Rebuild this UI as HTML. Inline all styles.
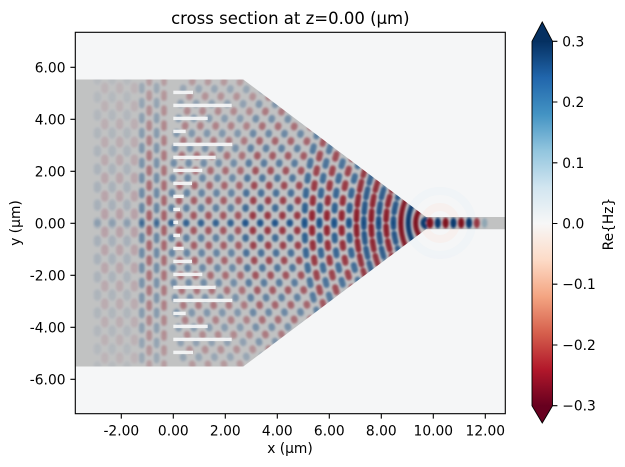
<!DOCTYPE html>
<html><head><meta charset="utf-8">
<style>
html,body{margin:0;padding:0;background:#fff;width:625px;height:467px;overflow:hidden}
svg{display:block}
text{font-family:"DejaVu Sans","Liberation Sans",sans-serif;fill:#000}
</style></head>
<body>
<svg width="625" height="467" viewBox="0 0 625 467" xmlns="http://www.w3.org/2000/svg">
<defs>
<clipPath id="plot"><rect x="75.3" y="32.3" width="430" height="381.4"/></clipPath>
<clipPath id="st"><path d="M75.3 79.5H243.3L426 217H505.3V229.2H426L243.3 366.5H75.3Z"/></clipPath>
<linearGradient id="vf" gradientUnits="userSpaceOnUse" x1="0" y1="79" x2="0" y2="367">
<stop offset="0" stop-color="#5a5a5a"/><stop offset=".25" stop-color="#b5b5b5"/><stop offset=".5" stop-color="#fff"/><stop offset=".75" stop-color="#b5b5b5"/><stop offset="1" stop-color="#5a5a5a"/>
</linearGradient>
<mask id="vm" maskUnits="userSpaceOnUse" x="0" y="0" width="625" height="467"><rect width="625" height="467" fill="url(#vf)"/></mask>
<filter id="bl" filterUnits="userSpaceOnUse" x="0" y="0" width="625" height="467"><feGaussianBlur stdDeviation="1"/></filter>
<linearGradient id="cb" x1="0" y1="1" x2="0" y2="0">
<stop offset="0" stop-color="#67001f"/><stop offset=".1" stop-color="#b2182b"/><stop offset=".2" stop-color="#d6604d"/><stop offset=".3" stop-color="#f4a582"/><stop offset=".4" stop-color="#fddbc7"/><stop offset=".5" stop-color="#f7f7f7"/><stop offset=".6" stop-color="#d1e5f0"/><stop offset=".7" stop-color="#92c5de"/><stop offset=".8" stop-color="#4393c3"/><stop offset=".9" stop-color="#2166ac"/><stop offset="1" stop-color="#053061"/>
</linearGradient>
</defs>

<!-- plot background -->
<rect x="75.3" y="32.3" width="430" height="381.4" fill="#f5f6f7"/>

<g clip-path="url(#plot)">
  <!-- very faint field outside structure near tip -->
  <g fill="none" opacity=".35">
    <circle cx="440" cy="223" r="16" stroke="#fbe6dc" stroke-width="8"/>
    <circle cx="440" cy="223" r="32" stroke="#e8eff5" stroke-width="8"/>
  </g>

  <!-- field inside structure -->
  <g clip-path="url(#st)" mask="url(#vm)">
   <g filter="url(#bl)" fill="none">
    <g id="up">
      <!-- near tip: continuous dark stripes -->
      <g stroke-width="5">
        <path stroke="#0b4a8c" d="M423 223A4 4 0 0 1 427 219"/>
        <path stroke="#a01228" d="M415.6 223A22.5 22.5 0 0 1 438.1 200.5"/>
        <path stroke="#0b4a8c" d="M408.2 223A41 41 0 0 1 449.2 182"/>
        <path stroke="#a01228" d="M400.8 223A59.5 59.5 0 0 1 460.3 163.5"/>
      </g>
      <!-- mostly continuous beaded -->
      <g stroke-width="5.5" stroke-linecap="round" stroke-dasharray="9 6" opacity=".95">
        <g stroke="#1d5fa5" stroke-dashoffset="4.5">
          <path d="M393.4 223A78 78 0 0 1 471.4 145"/>
          <path d="M378.6 223A115 115 0 0 1 493.6 108"/>
          <path d="M363.8 223A152 152 0 0 1 515.8 71"/>
        </g>
        <g stroke="#ab1429" stroke-dashoffset="12">
          <path d="M386 223A96.5 96.5 0 0 1 482.5 126.5"/>
          <path d="M371.2 223A133.5 133.5 0 0 1 504.7 89.5"/>
          <path d="M356.4 223A170.5 170.5 0 0 1 476.89 60"/>
        </g>
      </g>
      <!-- beaded -->
      <g stroke-width="6" stroke-linecap="round" stroke-dasharray="5 10" opacity=".9">
        <g stroke="#2166ac" stroke-dashoffset="2.5">
          <path d="M349 223A189 189 0 0 1 442.33 60"/>
          <path d="M334.2 223A226 226 0 0 1 403.65 60"/>
          <path d="M319.4 223A276 276 0 0 1 372.67 60"/>
          <path d="M304.6 223A326 326 0 0 1 348.28 60"/>
        </g>
        <g stroke="#b2182b" stroke-dashoffset="10">
          <path d="M341.6 223A207.5 207.5 0 0 1 420.7 60"/>
          <path d="M326.8 223A251 251 0 0 1 386.93 60"/>
          <path d="M312 223A301 301 0 0 1 359.95 60"/>
        </g>
      </g>
      <!-- dots -->
      <g stroke-width="6.5" stroke-linecap="round" stroke-dasharray="1.5 13.5" opacity=".8">
        <g stroke="#b2182b" stroke-dashoffset="8.25">
          <path d="M297.2 223A351 351 0 0 1 337.34 60"/>
          <path d="M282.4 223A401 401 0 0 1 317.02 60"/>
          <path d="M267.6 223A451 451 0 0 1 298.09 60"/>
          <path d="M252.8 223A501 501 0 0 1 280.06 60"/>
        </g>
        <g stroke="#2166ac" stroke-dashoffset=".75">
          <path d="M289.8 223A376 376 0 0 1 326.97 60"/>
          <path d="M275 223A426 426 0 0 1 307.42 60"/>
          <path d="M260.2 223A476 476 0 0 1 288.98 60"/>
          <path d="M245.4 223A526 526 0 0 1 271.29 60"/>
        </g>
      </g>
      <g stroke-width="6.5" stroke-linecap="round" stroke-dasharray="1.5 13.5" opacity=".6">
        <g stroke="#b2182b" stroke-dashoffset="8.25">
          <path d="M238 223A551 551 0 0 1 262.66 60"/>
          <path d="M223.2 223A601 601 0 0 1 245.73 60"/>
          <path d="M208.4 223A651 651 0 0 1 229.14 60"/>
          <path d="M193.6 223A701 701 0 0 1 212.81 60"/>
          <path d="M178.8 223A751 751 0 0 1 196.7 60"/>
        </g>
        <g stroke="#2166ac" stroke-dashoffset=".75">
          <path d="M230.6 223A576 576 0 0 1 254.14 60"/>
          <path d="M215.8 223A626 626 0 0 1 237.39 60"/>
          <path d="M201 223A676 676 0 0 1 220.95 60"/>
          <path d="M186.2 223A726 726 0 0 1 204.74 60"/>
          <path d="M171.4 223A776 776 0 0 1 188.71 60"/>
        </g>
      </g>
      <!-- straight beaded stripes left of grating -->
      <g stroke-width="5.5" stroke-linecap="round" stroke-dasharray="5 10" opacity=".55">
        <g stroke="#b2182b" stroke-dashoffset="10">
          <path d="M164 223V60"/><path d="M149.2 223V60"/>
        </g>
        <g stroke="#2166ac" stroke-dashoffset="2.5">
          <path d="M156.6 223V60"/><path d="M141.8 223V60"/>
        </g>
      </g>
      <!-- faint blobs -->
      <g stroke-width="7" stroke-linecap="round" stroke-dasharray="4 14" opacity=".17">
        <g stroke="#b2182b" stroke-dashoffset="11">
          <path d="M134.4 223V60"/><path d="M119.6 223V60"/><path d="M104.8 223V60"/>
        </g>
        <g stroke="#2166ac" stroke-dashoffset="2">
          <path d="M127 223V60"/><path d="M112.2 223V60"/><path d="M97.4 223V60"/>
        </g>
      </g>
    </g>
    <use href="#up" transform="matrix(1 0 0 -1 0 446)"/>
    <!-- waveguide mode dots -->
    <g stroke="none">
      <ellipse cx="430" cy="223" rx="3.4" ry="5.6" fill="#a01228"/>
      <ellipse cx="437.8" cy="223" rx="3.1" ry="5.5" fill="#0b4a8c"/>
      <ellipse cx="445.6" cy="223" rx="3.1" ry="5.5" fill="#a01228"/>
      <ellipse cx="453.4" cy="223" rx="3.1" ry="5.5" fill="#0b4a8c"/>
      <ellipse cx="461.2" cy="223" rx="3.1" ry="5.5" fill="#a01228"/>
      <ellipse cx="469" cy="223" rx="3.1" ry="5.5" fill="#0b4a8c"/>
      <ellipse cx="476.8" cy="223" rx="3" ry="5.2" fill="#b2182b" opacity=".8"/>
      <ellipse cx="484.6" cy="223" rx="2.8" ry="5" fill="#4393c3" opacity=".35"/>
    </g>
   </g>
  </g>

  <!-- structure overlay -->
  <path d="M75.3 79.5H243.3L426 217H505.3V229.2H426L243.3 366.5H75.3Z" fill="#000" fill-opacity=".21"/>

  <!-- grating bars -->
  <g fill="#f6f7f8" opacity=".92">
    <rect x="173.3" y="90.7" width="19.7" height="3.4"/>
    <rect x="173.3" y="103.7" width="58.4" height="3.4"/>
    <rect x="173.3" y="116.7" width="34.4" height="3.4"/>
    <rect x="173.3" y="129.7" width="12.4" height="3.4"/>
    <rect x="173.3" y="142.7" width="59" height="3.4"/>
    <rect x="173.3" y="155.7" width="42.4" height="3.4"/>
    <rect x="173.3" y="168.7" width="29" height="3.4"/>
    <rect x="173.3" y="181.7" width="18.7" height="3.4"/>
    <rect x="173.3" y="194.7" width="10.4" height="3.4"/>
    <rect x="173.3" y="207.7" width="6.7" height="3.4"/>
    <rect x="173.3" y="220.7" width="4.7" height="3.4"/>
    <rect x="173.3" y="233.7" width="6.7" height="3.4"/>
    <rect x="173.3" y="246.7" width="10.4" height="3.4"/>
    <rect x="173.3" y="259.7" width="18.7" height="3.4"/>
    <rect x="173.3" y="272.7" width="29" height="3.4"/>
    <rect x="173.3" y="285.7" width="42.4" height="3.4"/>
    <rect x="173.3" y="298.7" width="59" height="3.4"/>
    <rect x="173.3" y="311.7" width="12.4" height="3.4"/>
    <rect x="173.3" y="324.7" width="34.4" height="3.4"/>
    <rect x="173.3" y="337.7" width="58.4" height="3.4"/>
    <rect x="173.3" y="350.7" width="19.7" height="3.4"/>
  </g>
</g>

<!-- spines -->
<rect x="75.3" y="32.3" width="430" height="381.4" fill="none" stroke="#000" stroke-width="1.1"/>

<!-- ticks -->
<g stroke="#000" stroke-width="1.1">
  <path d="M70.4 67.3H75.3M70.4 119.3H75.3M70.4 171.3H75.3M70.4 223.3H75.3M70.4 275.3H75.3M70.4 327.3H75.3M70.4 379.3H75.3"/>
  <path d="M121.3 413.7V418.6M173.3 413.7V418.6M225.3 413.7V418.6M277.3 413.7V418.6M329.3 413.7V418.6M381.3 413.7V418.6M433.3 413.7V418.6M485.3 413.7V418.6"/>
</g>
<g font-size="13.8" text-anchor="end">
  <text x="65.5" y="72.3">6.00</text>
  <text x="65.5" y="124.3">4.00</text>
  <text x="65.5" y="176.3">2.00</text>
  <text x="65.5" y="228.3">0.00</text>
  <text x="65.5" y="280.3">-2.00</text>
  <text x="65.5" y="332.3">-4.00</text>
  <text x="65.5" y="384.3">-6.00</text>
</g>
<g font-size="13.8" text-anchor="middle">
  <text x="121.3" y="435.3">-2.00</text>
  <text x="173.3" y="435.3">0.00</text>
  <text x="225.3" y="435.3">2.00</text>
  <text x="277.3" y="435.3">4.00</text>
  <text x="329.3" y="435.3">6.00</text>
  <text x="381.3" y="435.3">8.00</text>
  <text x="433.3" y="435.3">10.00</text>
  <text x="485.3" y="435.3">12.00</text>
  <text x="290" y="453">x (μm)</text>
  <text transform="translate(20,223) rotate(-90)">y (μm)</text>
</g>
<text x="290.3" y="24" font-size="16.5" text-anchor="middle">cross section at z=0.00 (μm)</text>

<!-- colorbar -->
<rect x="532" y="41.3" width="20.5" height="364.4" fill="url(#cb)"/>
<polygon points="532,41.6 542.25,22 552.5,41.6" fill="#053061"/>
<polygon points="532,405.4 542.25,423 552.5,405.4" fill="#67001f"/>
<polygon points="532,41.3 542.25,22 552.5,41.3 552.5,405.7 542.25,423 532,405.7" fill="none" stroke="#000" stroke-width="0.9"/>
<path d="M552.5 41.3H557.4M552.5 102H557.4M552.5 162.8H557.4M552.5 223.5H557.4M552.5 284.2H557.4M552.5 345H557.4M552.5 405.7H557.4" stroke="#000" stroke-width="1.1"/>
<g font-size="13.8">
  <text x="562.3" y="46.3">0.3</text>
  <text x="562.3" y="107">0.2</text>
  <text x="562.3" y="167.8">0.1</text>
  <text x="562.3" y="228.5">0.0</text>
  <text x="562.3" y="289.2">−0.1</text>
  <text x="562.3" y="350">−0.2</text>
  <text x="562.3" y="410.7">−0.3</text>
  <text transform="translate(613,224) rotate(-90)" text-anchor="middle">Re{Hz}</text>
</g>
</svg>
</body></html>
